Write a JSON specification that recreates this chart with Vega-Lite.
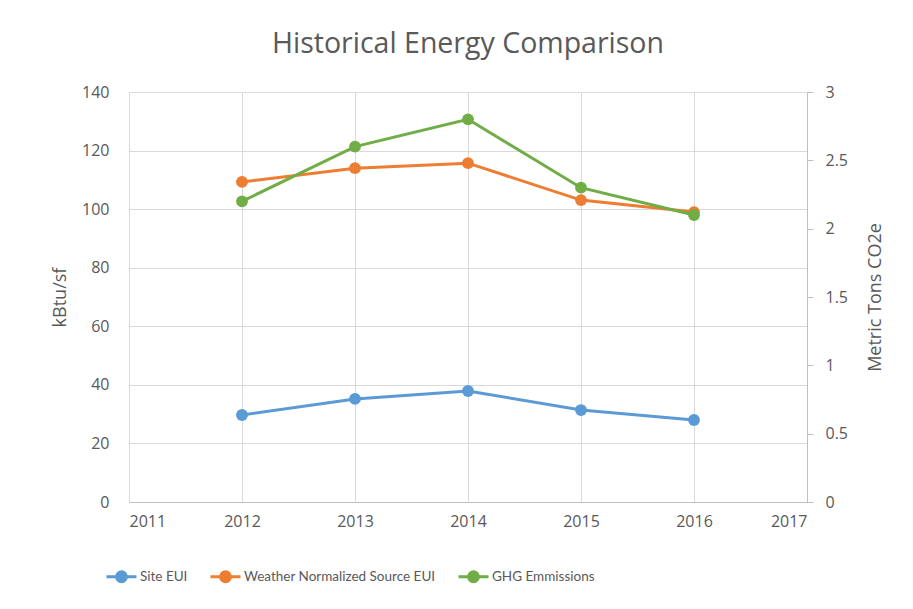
{
  "$schema": "https://vega.github.io/schema/vega-lite/v6.json",
  "width": 678,
  "height": 410,
  "autosize": {"type": "none"},
  "padding": {"left": 129, "top": 92, "right": 106, "bottom": 107},
  "background": "white",
  "config": {
    "font": "Open Sans",
    "view": {"stroke": null},
    "axis": {"labelColor": "#595959", "titleColor": "#595959", "labelFontSize": 16, "titleFontSize": 18, "titleFontWeight": "normal", "gridColor": "#d9d9d9", "domainColor": "#bfbfbf", "tickColor": "#bfbfbf"}
  },
  "title": {"text": "Historical Energy Comparison", "fontSize": 28.5, "fontWeight": "normal", "color": "#595959", "offset": 26, "font": "Open Sans"},
  "data": {"values": [
    {"year": 2012, "series": "Site EUI", "value": 29.7},
    {"year": 2013, "series": "Site EUI", "value": 35.2},
    {"year": 2014, "series": "Site EUI", "value": 37.9},
    {"year": 2015, "series": "Site EUI", "value": 31.4},
    {"year": 2016, "series": "Site EUI", "value": 28.0},
    {"year": 2012, "series": "Weather Normalized Source EUI", "value": 109.3},
    {"year": 2013, "series": "Weather Normalized Source EUI", "value": 114.0},
    {"year": 2014, "series": "Weather Normalized Source EUI", "value": 115.7},
    {"year": 2015, "series": "Weather Normalized Source EUI", "value": 103.1},
    {"year": 2016, "series": "Weather Normalized Source EUI", "value": 99.0},
    {"year": 2012, "series": "GHG Emmissions", "value": 2.2},
    {"year": 2013, "series": "GHG Emmissions", "value": 2.6},
    {"year": 2014, "series": "GHG Emmissions", "value": 2.8},
    {"year": 2015, "series": "GHG Emmissions", "value": 2.3},
    {"year": 2016, "series": "GHG Emmissions", "value": 2.1}
  ]},
  "encoding": {
    "x": {"field": "year", "type": "quantitative", "scale": {"domain": [2011, 2017], "nice": false, "zero": false},
      "axis": {"title": null, "format": "d", "values": [2011, 2012, 2013, 2014, 2015, 2016, 2017], "ticks": false, "labelPadding": 11, "grid": true, "domain": true}},
    "color": {"field": "series", "type": "nominal",
      "scale": {"domain": ["Site EUI", "Weather Normalized Source EUI", "GHG Emmissions"], "range": ["#5B9BD5", "#ED7D31", "#70AD47"]},
      "legend": {"title": null, "orient": "none", "legendX": -24, "legendY": 468, "direction": "horizontal", "columns": 3, "columnPadding": 16,
        "labelFontSize": 13.5, "labelFont": "Lato", "labelColor": "#595959", "labelOffset": 2, "labelLimit": 0,
        "symbolType": "M-1,0L1,0M-0.33,0A0.33,0.33 0 1,0 0.33,0A0.33,0.33 0 1,0 -0.33,0Z",
        "symbolSize": 900, "symbolStrokeWidth": 3,
        "encode": {"symbols": {"update": {"fill": {"scale": "color", "field": "value"}, "stroke": {"scale": "color", "field": "value"}}}}}}
  },
  "layer": [
    {
      "transform": [{"filter": "datum.series !== 'GHG Emmissions'"}],
      "encoding": {"y": {"field": "value", "type": "quantitative", "scale": {"domain": [0, 140], "nice": false},
        "axis": {"title": "kBtu/sf", "values": [0, 20, 40, 60, 80, 100, 120, 140], "ticks": false, "domain": false, "labelPadding": 20, "titlePadding": 12, "grid": true}}},
      "layer": [
        {"mark": {"type": "line", "strokeWidth": 3}},
        {"mark": {"type": "point", "filled": true, "size": 140, "opacity": 1}}
      ]
    },
    {
      "transform": [{"filter": "datum.series === 'GHG Emmissions'"}],
      "encoding": {"y": {"field": "value", "type": "quantitative", "scale": {"domain": [0, 3], "nice": false},
        "axis": {"title": "Metric Tons CO2e", "orient": "right", "format": "~g", "values": [0, 0.5, 1, 1.5, 2, 2.5, 3], "ticks": true, "tickSize": 6, "domain": true, "labelPadding": 12,
          "titleAngle": 270, "titleX": 68, "titleY": 205, "titleAlign": "center", "titleBaseline": "middle", "grid": false}}},
      "layer": [
        {"mark": {"type": "line", "strokeWidth": 3}},
        {"mark": {"type": "point", "filled": true, "size": 140, "opacity": 1}}
      ]
    }
  ],
  "resolve": {"scale": {"y": "independent"}}
}
